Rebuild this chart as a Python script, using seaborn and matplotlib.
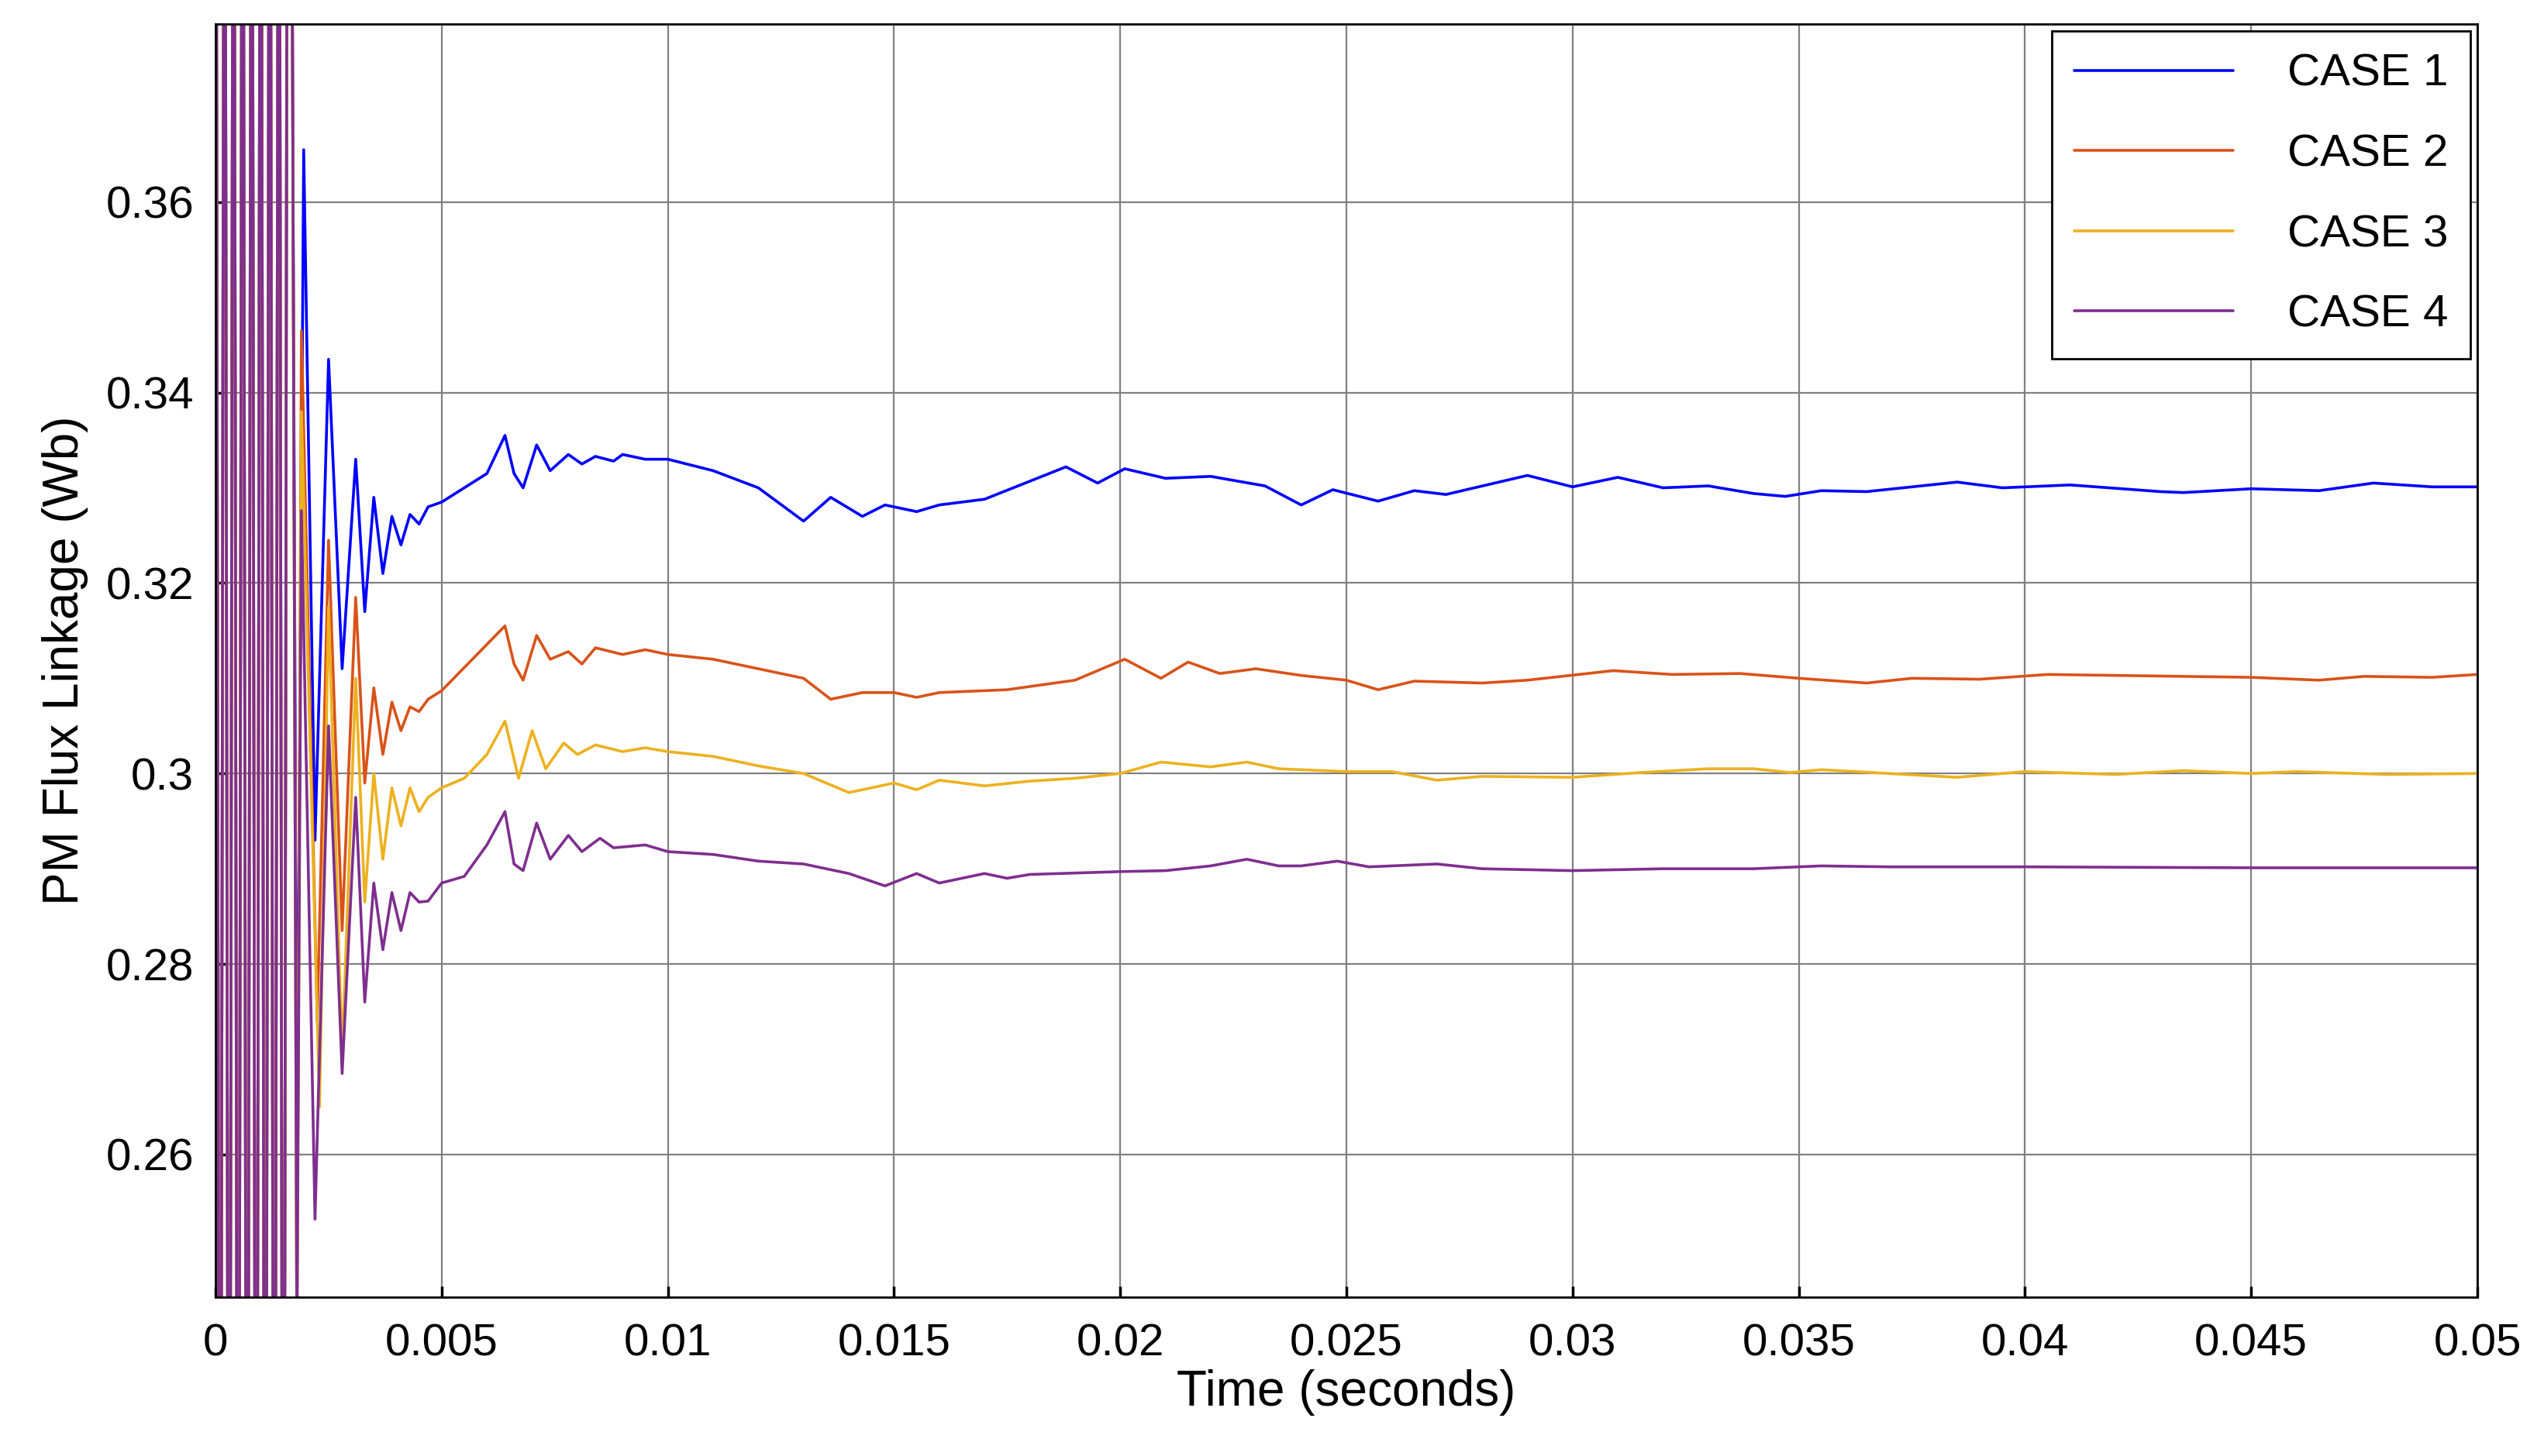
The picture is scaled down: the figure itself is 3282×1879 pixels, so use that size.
import numpy as np
import pandas as pd
import matplotlib
matplotlib.use("Agg")
import matplotlib.pyplot as plt
import seaborn as sns

# early off-scale swings (shared by all cases)
t_early = [0.0, 0.0001, 0.0002, 0.0003, 0.0004, 0.0005, 0.0006, 0.0007, 0.0008, 0.0009,
           0.0010, 0.0011, 0.0012, 0.0013, 0.0014, 0.0015, 0.0016, 0.0017]
v_early = [0.45, 0.15, 0.45, 0.15, 0.45, 0.15, 0.45, 0.15, 0.45, 0.15,
           0.45, 0.15, 0.45, 0.15, 0.45, 0.15, 0.45, 0.38]

t1 = [0.0018, 0.00195, 0.0022, 0.0025, 0.0028, 0.0031, 0.0033, 0.0035, 0.0037, 0.0039, 0.0041, 0.0043,
      0.0045, 0.0047, 0.005, 0.0055, 0.006, 0.0064, 0.0066, 0.0068, 0.0071, 0.0074, 0.0078, 0.0081,
      0.0084, 0.0088, 0.009, 0.0095, 0.01, 0.011, 0.012, 0.013, 0.0136, 0.0143, 0.0148, 0.0155, 0.016,
      0.017, 0.0188, 0.0195, 0.0201, 0.021, 0.022, 0.0232, 0.024, 0.0247, 0.0257, 0.0265, 0.0272, 0.029,
      0.03, 0.031, 0.032, 0.033, 0.034, 0.0347, 0.0355, 0.0365, 0.0385, 0.0395, 0.041, 0.043, 0.0435,
      0.045, 0.0465, 0.0477, 0.049, 0.05]
v1 = [0.258, 0.3655, 0.293, 0.3435, 0.311, 0.333, 0.317, 0.329, 0.321, 0.327, 0.324, 0.3272,
      0.3262, 0.328, 0.3285, 0.330, 0.3315, 0.3355, 0.3315, 0.330, 0.3345, 0.3318, 0.3335, 0.3325,
      0.3333, 0.3328, 0.3335, 0.333, 0.333, 0.3318, 0.330, 0.3265, 0.329, 0.327, 0.3282, 0.3275, 0.3282,
      0.3288, 0.3322, 0.3305, 0.332, 0.331, 0.3312, 0.3302, 0.3282, 0.3298, 0.3286, 0.3297, 0.3293, 0.3313,
      0.3301, 0.3311, 0.330, 0.3302, 0.3294, 0.3291, 0.3297, 0.3296, 0.3306, 0.330, 0.3303, 0.3296, 0.3295,
      0.3299, 0.3297, 0.3305, 0.3301, 0.3301]

t2 = [0.0018, 0.0019, 0.00225, 0.0025, 0.0028, 0.0031, 0.0033, 0.0035, 0.0037, 0.0039, 0.0041, 0.0043,
      0.0045, 0.0047, 0.005, 0.0064, 0.0066, 0.0068, 0.0071, 0.0074, 0.0078, 0.0081, 0.0084, 0.009, 0.0095,
      0.01, 0.011, 0.012, 0.013, 0.0136, 0.0143, 0.015, 0.0155, 0.016, 0.0175, 0.019, 0.0201, 0.0209,
      0.0215, 0.0222, 0.023, 0.024, 0.025, 0.0257, 0.0265, 0.028, 0.029, 0.0309, 0.0322, 0.0337, 0.035,
      0.0365, 0.0375, 0.039, 0.0405, 0.045, 0.0465, 0.0475, 0.049, 0.05]
v2 = [0.24, 0.3465, 0.274, 0.3245, 0.2835, 0.3185, 0.299, 0.309, 0.302, 0.3075, 0.3045, 0.307,
      0.3065, 0.3078, 0.3087, 0.3155, 0.3115, 0.3098, 0.3145, 0.312, 0.3128, 0.3115, 0.3132, 0.3125, 0.313,
      0.3125, 0.312, 0.311, 0.310, 0.3078, 0.3085, 0.3085, 0.308, 0.3085, 0.3088, 0.3098, 0.312, 0.310,
      0.3117, 0.3105, 0.311, 0.3103, 0.3098, 0.3088, 0.3097, 0.3095, 0.3098, 0.3108, 0.3104, 0.3105, 0.310,
      0.3095, 0.310, 0.3099, 0.3104, 0.3101, 0.3098, 0.3102, 0.3101, 0.3104]

t3 = [0.0018, 0.0019, 0.0023, 0.0025, 0.0028, 0.0031, 0.0033, 0.0035, 0.0037, 0.0039, 0.0041, 0.0043,
      0.0045, 0.0047, 0.005, 0.0055, 0.006, 0.0064, 0.0067, 0.007, 0.0073, 0.0077, 0.008, 0.0084, 0.009,
      0.0095, 0.01, 0.011, 0.012, 0.013, 0.014, 0.015, 0.0155, 0.016, 0.017, 0.018, 0.019, 0.02, 0.0209,
      0.022, 0.0228, 0.0235, 0.025, 0.026, 0.027, 0.028, 0.03, 0.0315, 0.033, 0.034, 0.0348, 0.0355, 0.037,
      0.0385, 0.04, 0.042, 0.0435, 0.045, 0.046, 0.048, 0.05]
v3 = [0.24, 0.338, 0.265, 0.3175, 0.2705, 0.31, 0.2865, 0.300, 0.291, 0.2985, 0.2945, 0.2985,
      0.296, 0.2975, 0.2985, 0.2995, 0.302, 0.3055, 0.2995, 0.3045, 0.3005, 0.3032, 0.302, 0.303, 0.3023,
      0.3027, 0.3023, 0.3018, 0.3008, 0.300, 0.298, 0.299, 0.2983, 0.2993, 0.2987, 0.2992, 0.2995, 0.300, 0.3012,
      0.3007, 0.3012, 0.3005, 0.3002, 0.3002, 0.2993, 0.2997, 0.2996, 0.3001, 0.3005, 0.3005, 0.3001, 0.3004, 0.300,
      0.2996, 0.3002, 0.2999, 0.3003, 0.300, 0.3002, 0.2999, 0.300]

t4 = [0.0018, 0.0019, 0.0022, 0.0025, 0.0028, 0.0031, 0.0033, 0.0035, 0.0037, 0.0039, 0.0041, 0.0043,
      0.0045, 0.0047, 0.005, 0.0055, 0.006, 0.0064, 0.0066, 0.0068, 0.0071, 0.0074, 0.0078, 0.0081, 0.0085,
      0.0088, 0.0095, 0.01, 0.011, 0.012, 0.013, 0.014, 0.0148, 0.0155, 0.016, 0.017, 0.0175, 0.018, 0.02,
      0.021, 0.022, 0.0228, 0.0235, 0.024, 0.0248, 0.0255, 0.027, 0.028, 0.03, 0.032, 0.034, 0.0355, 0.037,
      0.04, 0.045, 0.05]
v4 = [0.24, 0.3276, 0.2532, 0.305, 0.2685, 0.2975, 0.276, 0.2885, 0.2815, 0.2875, 0.2835, 0.2875,
      0.2865, 0.2866, 0.2885, 0.2892, 0.2925, 0.296, 0.2905, 0.2898, 0.2948, 0.291, 0.2935, 0.2918, 0.2932,
      0.2922, 0.2925, 0.2918, 0.2915, 0.2908, 0.2905, 0.2895, 0.2882, 0.2895, 0.2885, 0.2895, 0.289, 0.2894, 0.2897,
      0.2898, 0.2903, 0.291, 0.2903, 0.2903, 0.2908, 0.2902, 0.2905, 0.290, 0.2898, 0.290, 0.290, 0.2903, 0.2902,
      0.2902, 0.2901, 0.2901]

cases = ["CASE 1", "CASE 2", "CASE 3", "CASE 4"]
colors = ["#0000FF", "#D95319", "#EDB120", "#7E2F8E"]

frames = []
for name, t, v in zip(cases, [t1, t2, t3, t4], [v1, v2, v3, v4]):
    frames.append(pd.DataFrame({"t": t_early + t, "v": v_early + v, "case": name}))
df = pd.concat(frames, ignore_index=True)

sns.set_theme(style="white")
plt.rcParams["font.family"] = ["Liberation Sans", "DejaVu Sans"]
plt.rcParams["text.color"] = "black"
plt.rcParams["axes.labelcolor"] = "black"

fig = plt.figure(figsize=(16.41, 9.395), dpi=200)
ax = fig.add_axes([0.0847, 0.109, 0.8891, 0.8745])
sns.lineplot(data=df, x="t", y="v", hue="case", palette=colors, sort=False,
             estimator=None, linewidth=1.3, ax=ax)

ax.set_xlim(0, 0.05)
ax.set_ylim(0.245, 0.3787)
ax.set_xticks(np.arange(0, 0.0501, 0.005))
ax.set_xticklabels(["0", "0.005", "0.01", "0.015", "0.02", "0.025", "0.03", "0.035", "0.04", "0.045", "0.05"])
ax.set_yticks([0.26, 0.28, 0.3, 0.32, 0.34, 0.36])
ax.set_yticklabels(["0.26", "0.28", "0.3", "0.32", "0.34", "0.36"])
ax.grid(True, color="#808080", linewidth=0.8)
for s in ax.spines.values():
    s.set_color("black")
    s.set_linewidth(1.0)
ax.tick_params(axis="both", labelsize=21, direction="in", length=5, colors="black",
               labelcolor="black", bottom=True, left=True)
ax.tick_params(axis="x", pad=12)
ax.tick_params(axis="y", pad=10)
ax.set_xlabel("Time (seconds)", fontsize=23, labelpad=2, color="black")
ax.set_ylabel("PM Flux Linkage (Wb)", fontsize=23, labelpad=8, color="black")

leg = ax.legend(loc="upper right", fontsize=21, frameon=True, fancybox=False,
                edgecolor="black", framealpha=1, handlelength=3.5, borderpad=0.5,
                labelspacing=0.85, handletextpad=1.2, borderaxespad=0.15)
leg.get_frame().set_linewidth(1.0)
for txt in leg.get_texts():
    txt.set_color("black")
for h in leg.get_lines():
    h.set_linewidth(1.3)

fig.savefig("out.png", dpi=200)
